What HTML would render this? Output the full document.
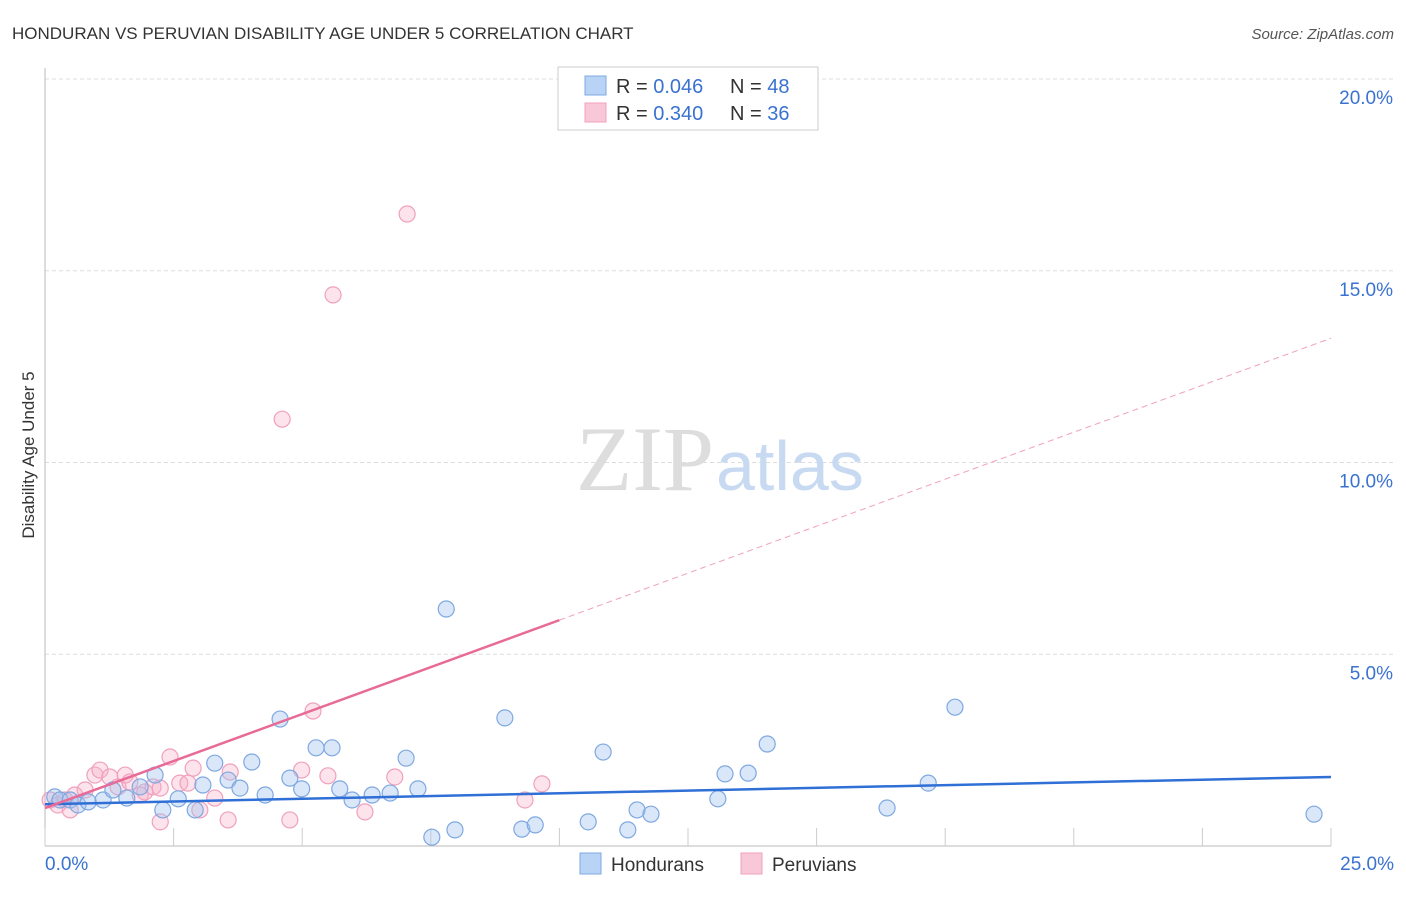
<!DOCTYPE html>
<html><head><meta charset="utf-8"><style>
body{margin:0;background:#fff;font-family:"Liberation Sans",sans-serif;}
</style></head><body>
<svg id="chart" width="1406" height="892" xmlns="http://www.w3.org/2000/svg">
<text x="12" y="39" font-size="17" fill="#333">HONDURAN VS PERUVIAN DISABILITY AGE UNDER 5 CORRELATION CHART</text>
<text x="1394" y="39" font-size="15" fill="#555" font-style="italic" text-anchor="end">Source: ZipAtlas.com</text>
<text transform="translate(34,455) rotate(-90)" font-size="17" fill="#333" text-anchor="middle">Disability Age Under 5</text>
<g id="grid"></g>
<text x="714" y="490" font-size="92" fill="#ddd" text-anchor="end" font-family="Liberation Serif,serif">ZIP</text>
<text x="716" y="490" font-size="70" fill="#c8daf2">atlas</text>
<g id="marks"></g>
<g>
<rect x="558" y="67" width="260" height="63" fill="#fff" stroke="#ccc"/>
<rect x="585" y="76" width="21" height="19" fill="#b8d3f5" stroke="#7fa8e0"/>
<text x="616" y="93" font-size="20" fill="#333">R = <tspan fill="#3a72d0">0.046</tspan></text>
<text x="730" y="93" font-size="20" fill="#333">N = <tspan fill="#3a72d0">48</tspan></text>
<rect x="585" y="103" width="21" height="19" fill="#f9c8d8" stroke="#f0a0bc"/>
<text x="616" y="120" font-size="20" fill="#333">R = <tspan fill="#3a72d0">0.340</tspan></text>
<text x="730" y="120" font-size="20" fill="#333">N = <tspan fill="#3a72d0">36</tspan></text>
</g>
<g>
<rect x="580" y="853" width="21" height="21" fill="#b8d3f5" stroke="#7fa8e0"/>
<text x="611" y="871" font-size="19" fill="#333">Hondurans</text>
<rect x="741" y="853" width="21" height="21" fill="#f9c8d8" stroke="#f0a0bc"/>
<text x="772" y="871" font-size="19" fill="#333">Peruvians</text>
</g>
</svg>
<script>
const yTicks=[5,10,15,20];
const yTickLabels=["5.0%","10.0%","15.0%","20.0%"];
const xTickLabels=["0.0%","25.0%"];
const hondX=[0.19,0.29,0.49,0.64,0.84,1.13,1.32,1.59,1.85,2.14,2.29,2.59,2.92,3.07,3.30,3.56,3.79,4.02,4.28,4.57,4.76,4.99,5.27,5.58,5.73,5.97,6.36,6.71,7.02,7.25,7.52,7.80,7.97,8.94,9.27,9.53,10.56,10.85,11.33,11.51,11.78,13.08,13.22,13.67,14.04,16.37,17.17,17.69,24.67];
const hondY=[1.28,1.20,1.20,1.07,1.15,1.20,1.46,1.25,1.54,1.85,0.94,1.23,0.94,1.59,2.16,1.72,1.51,2.19,1.33,3.31,1.77,1.49,2.56,2.56,1.49,1.20,1.33,1.38,2.29,1.49,0.23,6.18,0.42,3.34,0.44,0.55,0.63,2.45,0.42,0.94,0.83,1.23,1.88,1.90,2.66,0.99,1.64,3.62,0.83];
const peruX=[0.10,0.25,0.39,0.49,0.58,0.78,0.97,1.07,1.26,1.42,1.56,1.65,1.85,1.94,2.10,2.24,2.24,2.43,2.62,2.78,2.88,3.01,3.30,3.56,3.60,4.61,4.76,4.99,5.21,5.50,5.60,6.22,6.80,7.04,9.33,9.66];
const peruY=[1.20,1.07,1.20,0.94,1.33,1.46,1.85,1.98,1.80,1.54,1.85,1.67,1.33,1.41,1.54,1.51,0.63,2.32,1.64,1.64,2.03,0.94,1.25,0.68,1.93,11.13,0.68,1.98,3.52,1.83,14.37,0.89,1.80,16.48,1.20,1.62];
const hondTrend=[1.09,1.80];
const peruTrend=[0.99,13.24];
const peruSolidEnd=10;
const X0=45,X1=1331,Y0=846,PPY=38.35;
const sx=v=>X0+(X1-X0)*v/25, sy=v=>Y0-v*PPY;
const NS="http://www.w3.org/2000/svg";
const grid=document.getElementById('grid'),marks=document.getElementById('marks');
function mk(p,tag,a){const e=document.createElementNS(NS,tag);for(const k in a)e.setAttribute(k,a[k]);p.appendChild(e);return e;}
yTicks.forEach((t,i)=>{
 const l=mk(grid,'line',{x1:X0,x2:1394,y1:sy(t),y2:sy(t),stroke:'#ddd','stroke-dasharray':'4,3'});
 
 
 const tx=mk(grid,'text',{x:1393,y:sy(t)+25,'font-size':19,fill:'#3a72d0','text-anchor':'end'});
 tx.textContent=yTickLabels[i];
 
 
});
mk(grid,'line',{x1:X0,x2:X0,y1:68,y2:Y0,stroke:'#bbb'});
mk(grid,'line',{x1:X0,x2:X1,y1:Y0,y2:Y0,stroke:'#bbb'});
for(let i=0;i<=10;i++){mk(grid,'line',{x1:sx(i*2.5),x2:sx(i*2.5),y1:Y0,y2:Y0-18,stroke:'#ccc'});}
const xl0=mk(grid,'text',{x:45,y:870,'font-size':19,fill:'#3a72d0'});xl0.textContent=xTickLabels[0];


const xl1=mk(grid,'text',{x:1394,y:870,'font-size':19,fill:'#3a72d0','text-anchor':'end'});xl1.textContent=xTickLabels[1];


peruX.forEach((x,i)=>{const c=mk(marks,'circle',{cx:sx(x),cy:sy(peruY[i]),r:8,fill:'rgba(245,175,200,0.35)',stroke:'#f0a0bc','stroke-width':1.2});
 
 });
hondX.forEach((x,i)=>{const c=mk(marks,'circle',{cx:sx(x),cy:sy(hondY[i]),r:8,fill:'rgba(160,196,240,0.4)',stroke:'#7fa8e0','stroke-width':1.2});
 
 });
const ht=mk(marks,'line',{x1:sx(0),y1:sy(hondTrend[0]),x2:sx(25),y2:sy(hondTrend[1]),stroke:'#2f6fd6','stroke-width':2.5});


const pm=peruTrend[0]+(peruTrend[1]-peruTrend[0])*peruSolidEnd/25;
const pt=mk(marks,'line',{x1:sx(0),y1:sy(peruTrend[0]),x2:sx(peruSolidEnd),y2:sy(pm),stroke:'#e86a96','stroke-width':2.5});


const pd=mk(marks,'line',{x1:sx(peruSolidEnd),y1:sy(pm),x2:sx(25),y2:sy(peruTrend[1]),stroke:'#f0a0bc','stroke-width':1,'stroke-dasharray':'6,4'});


</script>
</body></html>
